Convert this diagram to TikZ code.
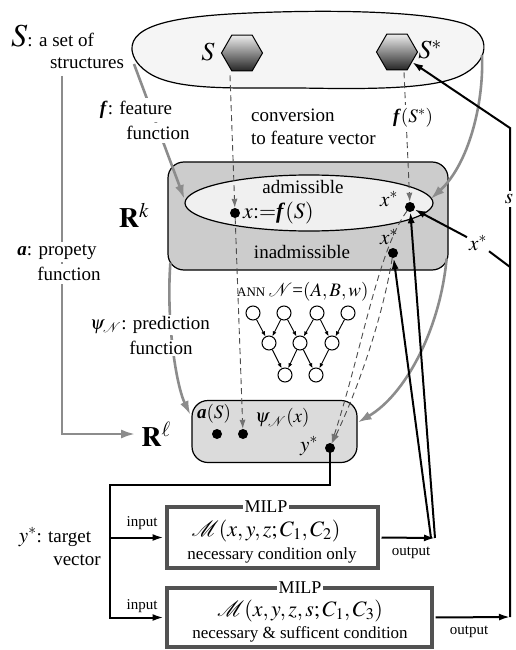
\documentclass[tikz,border=0pt]{standalone}
\usepackage{mathptmx}
\usepackage{fontspec}
\setmainfont{Liberation Serif}
\usetikzlibrary{shapes.geometric,arrows.meta,calc}
\newcommand{\fsz}[1]{\fontsize{#1}{#1}\selectfont}
\tikzset{
 grayarr/.style={draw=black!45, line width=2.6pt, -{Latex[length=14pt,width=9pt]}},
 dasharr/.style={draw=black!70, line width=0.9pt, dash pattern=on 6pt off 4pt, -{Latex[length=9pt,width=6pt,color=black!55]}},
 blkarr/.style={draw=black, line width=2pt, -{Latex[length=11pt,width=7pt]}},
 blkline/.style={draw=black, line width=2pt},
 dot/.style={circle, fill=black, inner sep=0pt, minimum size=10pt},
 lbl/.style={font=\fsz{19}, inner sep=1pt},
 wlbl/.style={lbl, fill=white, inner ysep=3pt},
 small/.style={font=\fsz{15}, inner sep=1pt},
 hexa/.style={regular polygon, regular polygon sides=6, minimum size=41pt, draw=black, line width=1pt, top color=gray!15, bottom color=black!85, inner sep=0pt},
 annnode/.style={circle, draw, line width=1pt, fill=white, minimum size=14pt, inner sep=0pt},
 annarr/.style={line width=0.9pt, -{Latex[length=5pt,width=4pt]}},
 milp/.style={draw=black!68, line width=3.5pt, fill=white, inner sep=0pt},
 roundbox/.style={draw, line width=1.2pt, rounded corners=16pt, inner sep=0pt},
}
\begin{document}
\begin{tikzpicture}[x=1pt,y=-1pt]
\fill[white] (0,0) rectangle (515,650);
\useasboundingbox (0,0) rectangle (515,650);

% set of structures blob
\draw[fill=gray!8, line width=1.2pt] (132,50) .. controls (130,25) and (175,16) .. (250,13)
  .. controls (340,9) and (430,12) .. (465,24) .. controls (492,35) and (490,62) .. (460,76)
  .. controls (430,90) and (360,89) .. (300,88) .. controls (230,88) and (180,90) .. (152,75)
  .. controls (138,67) and (133,58) .. (132,50) -- cycle;
\coordinate (blobL) at (134,64);
\coordinate (blobR) at (482,55);

\node[hexa] (hexS) at (242,53) {};
\node[lbl, font=\fsz{26}] (SL) at (208,52) {$S$};
\node[hexa] (hexSs) at (397,52) {};
\node[lbl, font=\fsz{26}] (SsL) at (430,50) {$S^*$};

% left labels
\node[lbl, anchor=base west] (Slbl) at (10,47) {{\fsz{32}$S$}: a set of};
\node[lbl] (struct) at (87,63) {structures};
\coordinate (aTop) at (62,76);

% R^k box and ellipse
\node[roundbox, fill=gray!40, minimum width=280pt, minimum height=108pt] (Rk) at (308,216) {};
\node[ellipse, draw, line width=1.2pt, fill=gray!12, minimum width=248pt, minimum height=56pt, inner sep=0pt] (adm) at (309,203) {};
\node[lbl, inner sep=6pt] (RkL) at (134,215) {\fsz{28}$\mathbf{R}^k$};
\node[lbl] (admT) at (303,187) {admissible};
\node[lbl] (inadmT) at (302,252) {inadmissible};
\node[dot] (xdot) at (235,213) {};
\node[lbl, anchor=west] (xT) at (242,213) {\fsz{22}$x{:=}$\textbf{\textit{f}}$(S)$};
\node[dot] (xs1) at (410,207) {};
\node[lbl] (xs1L) at (389,199) {\fsz{21}$x^*$};
\node[dot] (xs2) at (393,253) {};
\node[lbl] (xs2L) at (389,237) {\fsz{21}$x^*$};

% conversion text
\node[lbl, anchor=west] (conv1) at (250,115) {conversion};
\node[lbl, anchor=west] (conv2) at (250,138) {to feature vector};

% R^l box
\node[roundbox, fill=gray!28, minimum width=165pt, minimum height=62pt] (Rlbox) at (274.5,431.5) {};
\node[dot] (aS) at (217,434) {};
\node[dot] (psid) at (243,434) {};
\node[dot] (ystar) at (330,448) {};
\node[lbl] (aSL) at (214,414) {\textbf{\textit{a}}$(S)$};
\node[lbl, anchor=west] (psiL) at (254,418) {$\psi_{\mathcal{N}}(x)$};
\node[lbl] (ysL) at (309,446) {\fsz{21}$y^*$};
\node[lbl, inner sep=6pt] (Rl) at (156,434) {\fsz{28}$\mathbf{R}^{\ell}$};

% ANN
\node[anchor=west, inner sep=1pt] (annT) at (236,292) {\fsz{13}ANN \fsz{19}$\mathcal{N}$=$(A,B,w)$};
\foreach \n/\x/\y in {t1/253/313, t2/284/313, t3/317/313, t4/348/313, m1/269/343, m2/300/343, m3/332/343, b1/285/375, b2/316/375}
  \node[annnode] (\n) at (\x,\y) {};
\foreach \a/\b in {t1/m1, t2/m1, t2/m2, t3/m2, t3/m3, t4/m3, m1/b1, m2/b1, m2/b2, m3/b2}
  \draw[annarr] (\a) -- (\b);

% gray arrows
\draw[grayarr] (aTop) |- (Rl.west);
\draw[grayarr] (blobL) -- ($(adm.west)+(0,-4)$);
\draw[grayarr] (blobR) .. controls (484,105) and (468,165) .. ($(adm.east)+(-3,-4)$);
\draw[grayarr] ($(Rk.south west)+(3,-8)$) .. controls (166,320) and (176,385) .. ($(Rlbox.north west)+(-1,15)$);
\draw[grayarr] ($(Rk.south east)+(-2,-12)$) .. controls (440,330) and (405,395) .. ($(Rlbox.east)+(0,-9)$);

% dashed arrows
\draw[dasharr] ($(hexS.south)+(-12,4)$) -- (xdot);
\draw[dasharr] (xdot) -- (psid);
\draw[dasharr] ($(hexSs.south)+(7,2)$) -- (xs1);
\draw[dasharr] (xs1) .. controls (378,250) and (362,350) .. (ystar);
\draw[dasharr] (xs2) .. controls (384,310) and (362,380) .. (ystar);

% labels over lines
\node[wlbl] (fS) at (413,118) {\textbf{\textit{f}}$(S^*)$};
\node[wlbl] (fL1) at (136,110) {\textbf{\textit{f}}: feature};
\node[wlbl] (fL2) at (158,133) {function};
\node[wlbl] (aL1) at (57,252) {\textbf{\textit{a}}: propety};
\node[wlbl] (aL2) at (69,274) {function};
\node[wlbl, inner ysep=1pt] (psiT1) at (150,325) {$\psi_{\mathcal{N}}$: prediction};
\node[wlbl, inner ysep=1pt] (psiT2) at (161,348) {function};

% MILP boxes
\node[milp, minimum width=211pt, minimum height=61pt] (M1) at (272.5,537.5) {};
\node[fill=white, inner sep=1.5pt, font=\fsz{18}] (M1T) at (266,507) {MILP};
\node[font=\fsz{22}, inner sep=0pt] (M1F) at (266,531) {$\mathcal{M}(x,y,z;C_1,C_2)$};
\node[font=\fsz{17}, inner sep=0pt] (M1C) at (272,555) {necessary condition only};
\node[milp, minimum width=265pt, minimum height=59pt] (M2) at (299.5,617.5) {};
\node[fill=white, inner sep=1.5pt, font=\fsz{18}] (M2T) at (300,588) {MILP};
\node[font=\fsz{22}, inner sep=0pt] (M2F) at (300,611) {$\mathcal{M}(x,y,z,s;C_1,C_3)$};
\node[font=\fsz{17}, inner sep=0pt] (M2C) at (300,634) {necessary \& sufficent condition};

% y* target
\node[lbl] (yT1) at (55,537) {\fsz{21}$y^*$\fsz{19}: target};
\node[lbl] (yT2) at (77,560) {vector};

% black connectors
\coordinate (c1) at (330,485);
\coordinate (c2) at (110,485);
\draw[blkarr, shorten >=1.75pt] (ystar.center) -- (c1) -- (c2) |- (M2.west);
\draw[blkarr, shorten >=1.75pt] (c2 |- M1.west) -- (M1.west);
\node[small] (in1) at (142,523) {input};
\node[small] (in2) at (142,606) {input};

\coordinate (o1) at (435,538);
\draw[blkarr, shorten <=1.75pt] (M1.east) -- (o1);
\draw[blkarr] (o1) -- (xs1);
\draw[blkarr] ($(o1)+(-4,0)$) -- (xs2);
\node[small] (out1) at (411,553) {output};

\coordinate (o2) at (510,617);
\coordinate (c3) at (510,128);
\coordinate (c4) at (510,267);
\draw[blkarr, shorten <=1.75pt] (M2.east) -- (o2);
\node[small] (out2) at (469,632) {output};
\draw[blkarr] (o2) -- (c3) -- (hexSs);
\node[lbl, fill=white, inner sep=2pt] (xsR) at (478,243) {\fsz{21}$x^*$};
\draw[blkline] (c4) -- (xsR);
\draw[blkarr] (xsR) -- (xs1);
\node[wlbl, inner xsep=2pt] (sT) at (509,199) {\fsz{21}$s$};
\end{tikzpicture}
\end{document}
